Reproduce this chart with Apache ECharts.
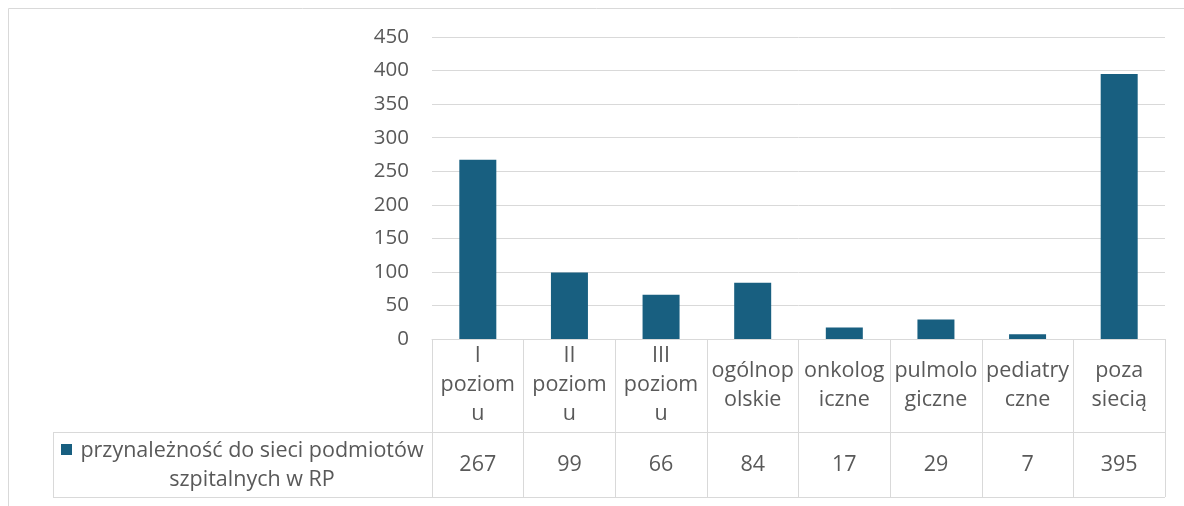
<!DOCTYPE html>
<html>
<head>
<meta charset="utf-8">
<script src="https://cdn.jsdelivr.net/npm/echarts@6/dist/echarts.min.js"></script>
<style>
  html, body { margin: 0; padding: 0; background: #fff; }
  #chart { width: 1184px; height: 506px; }
</style>
</head>
<body>
<div id="chart"></div>
<script>
// categories and their wrapped labels as shown in the data table
const categories = ['I poziomu', 'II poziomu', 'III poziomu', 'ogólnopolskie', 'onkologiczne', 'pulmologiczne', 'pediatryczne', 'poza siecią']
const tickLabels = ['I\npoziom\nu', 'II\npoziom\nu', 'III\npoziom\nu', 'ogólnop\nolskie', 'onkolog\niczne', 'pulmolo\ngiczne', 'pediatry\nczne', 'poza\nsiecią']
const seriesName = 'przynależność do sieci podmiotów szpitalnych w RP'
const values = [267, 99, 66, 84, 17, 29, 7, 395]

const textColor = '#595959'
const lineColor = '#d9d9d9'
const barColor = '#185f80'
const font = '"Open Sans", "Noto Sans", sans-serif'
const fontSize = 21.5

const chart = echarts.init(document.getElementById('chart'))

const option = {
  animation: false,
  grid: {
    left: 432,
    right: 19,
    top: 37,
    bottom: 167,
    containLabel: false,
  },
  xAxis: [
    {
      type: 'category',
      data: categories,
      axisLine: { lineStyle: { color: lineColor, width: 1 } },
      axisTick: {
        show: true,
        interval: 0,
        length: 158,
        lineStyle: { color: lineColor, width: 1 },
      },
      axisLabel: {
        interval: 0,
        margin: 46,
        verticalAlign: 'middle',
        lineHeight: 29,
        fontSize: fontSize,
        fontFamily: font,
        color: textColor,
        formatter: (v, i) => tickLabels[i],
      },
    },
    {
      type: 'category',
      position: 'bottom',
      data: values.map(String),
      axisLine: { show: false },
      axisTick: { show: false },
      axisLabel: {
        interval: 0,
        margin: 126,
        verticalAlign: 'middle',
        fontSize: fontSize,
        fontFamily: font,
        color: textColor,
      },
    },
  ],
  yAxis: {
    type: 'value',
    min: 0,
    max: 450,
    interval: 50,
    axisLine: { show: false },
    axisTick: { show: false },
    splitLine: { lineStyle: { color: lineColor, width: 1 } },
    axisLabel: {
      margin: 23,
      fontSize: 20.5,
      fontFamily: font,
      color: textColor,
    },
  },
  series: [
    {
      name: seriesName,
      type: 'bar',
      data: values,
      barWidth: 37,
      itemStyle: { color: barColor },
    },
  ],
  graphic: [
    // outer chart frame
    {
      type: 'rect',
      shape: { x: 8.5, y: 8.5, width: 1200, height: 520 },
      style: { fill: 'none', stroke: lineColor, lineWidth: 1 },
      silent: true,
    },
    // data table borders
    {
      type: 'line',
      shape: { x1: 53, y1: 432.5, x2: 1165, y2: 432.5 },
      style: { stroke: lineColor, lineWidth: 1 },
    },
    {
      type: 'line',
      shape: { x1: 53, y1: 497.5, x2: 1165, y2: 497.5 },
      style: { stroke: lineColor, lineWidth: 1 },
    },
    {
      type: 'line',
      shape: { x1: 53.5, y1: 432, x2: 53.5, y2: 498 },
      style: { stroke: lineColor, lineWidth: 1 },
    },
    // legend key in the table
    {
      type: 'rect',
      shape: { x: 61, y: 444, width: 11, height: 11 },
      style: { fill: barColor },
    },
    {
      type: 'text',
      x: 252,
      y: 465,
      style: {
        text: 'przynależność do sieci podmiotów\nszpitalnych w RP',
        fill: textColor,
        font: fontSize + 'px ' + font,
        align: 'center',
        verticalAlign: 'middle',
        lineHeight: 29,
      },
    },
  ],
}

chart.setOption(option)
</script>
</body>
</html>
